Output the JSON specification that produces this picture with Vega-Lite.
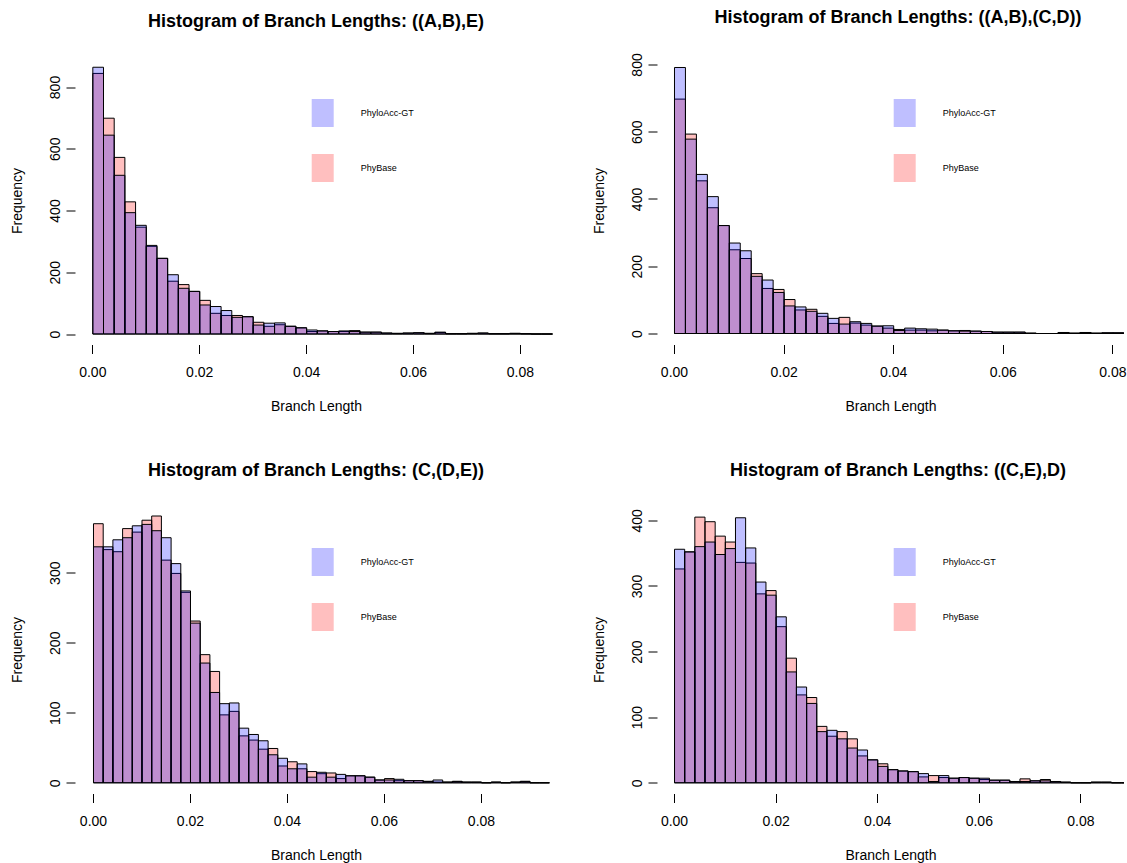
{
  "$schema": "https://vega.github.io/schema/vega-lite/v6.json",
  "padding": {"left": 10, "top": 8.5, "right": 0, "bottom": 0},
  "background": "white",
  "config": {
    "view": {"stroke": null},
    "font": "Liberation Sans",
    "title": {"font": "Liberation Sans", "fontSize": 18, "fontWeight": "bold", "color": "black", "offset": 26, "anchor": "middle", "baseline": "alphabetic"},
    "axis": {"domain": false, "grid": false, "ticks": true, "tickColor": "black", "tickWidth": 1, "tickSize": 9, "labelFont": "Liberation Sans", "labelFontSize": 14, "labelColor": "black", "labelFlush": false, "labelOverlap": false, "titleFont": "Liberation Sans", "titleFontSize": 14, "titleFontWeight": "normal", "titleColor": "black"},
    "axisX": {"labelPadding": 12, "titlePadding": 20, "format": ".2f"},
    "axisY": {"labelAngle": 270, "labelAlign": "center", "labelBaseline": "bottom", "labelPadding": 4, "titlePadding": 24},
    "legend": {"orient": "none", "legendX": 233.7, "legendY": 42.5, "padding": 0, "symbolType": "M-0.786,-1H0.786V1H-0.786Z", "symbolSize": 784, "symbolStrokeWidth": 0, "symbolStrokeColor": "transparent", "symbolOpacity": 1, "labelFont": "Liberation Sans", "labelFontSize": 9, "labelColor": "black", "labelOffset": 24, "rowPadding": 27}
  },
  "datasets": {
    "p1": [
      {"x": 0.000, "PhyloAcc-GT": 864, "PhyBase": 844},
      {"x": 0.002, "PhyloAcc-GT": 644, "PhyBase": 699},
      {"x": 0.004, "PhyloAcc-GT": 514, "PhyBase": 572},
      {"x": 0.006, "PhyloAcc-GT": 393, "PhyBase": 428},
      {"x": 0.008, "PhyloAcc-GT": 352, "PhyBase": 346},
      {"x": 0.010, "PhyloAcc-GT": 287, "PhyBase": 284},
      {"x": 0.012, "PhyloAcc-GT": 245, "PhyBase": 245},
      {"x": 0.014, "PhyloAcc-GT": 192, "PhyBase": 171},
      {"x": 0.016, "PhyloAcc-GT": 148, "PhyBase": 160},
      {"x": 0.018, "PhyloAcc-GT": 138, "PhyBase": 138},
      {"x": 0.020, "PhyloAcc-GT": 94, "PhyBase": 109},
      {"x": 0.022, "PhyloAcc-GT": 89, "PhyBase": 67},
      {"x": 0.024, "PhyloAcc-GT": 76, "PhyBase": 60},
      {"x": 0.026, "PhyloAcc-GT": 54, "PhyBase": 60},
      {"x": 0.028, "PhyloAcc-GT": 56, "PhyBase": 56},
      {"x": 0.030, "PhyloAcc-GT": 29, "PhyBase": 38},
      {"x": 0.032, "PhyloAcc-GT": 35, "PhyBase": 25},
      {"x": 0.034, "PhyloAcc-GT": 36, "PhyBase": 30},
      {"x": 0.036, "PhyloAcc-GT": 25, "PhyBase": 25},
      {"x": 0.038, "PhyloAcc-GT": 20, "PhyBase": 20},
      {"x": 0.040, "PhyloAcc-GT": 13, "PhyBase": 8},
      {"x": 0.042, "PhyloAcc-GT": 10, "PhyBase": 10},
      {"x": 0.044, "PhyloAcc-GT": 8, "PhyBase": 8},
      {"x": 0.046, "PhyloAcc-GT": 10, "PhyBase": 8},
      {"x": 0.048, "PhyloAcc-GT": 8, "PhyBase": 11},
      {"x": 0.050, "PhyloAcc-GT": 6, "PhyBase": 6},
      {"x": 0.052, "PhyloAcc-GT": 6, "PhyBase": 6},
      {"x": 0.054, "PhyloAcc-GT": 3, "PhyBase": 3},
      {"x": 0.056, "PhyloAcc-GT": 2, "PhyBase": 2},
      {"x": 0.058, "PhyloAcc-GT": 3, "PhyBase": 3},
      {"x": 0.060, "PhyloAcc-GT": 4, "PhyBase": 4},
      {"x": 0.062, "PhyloAcc-GT": 2, "PhyBase": 2},
      {"x": 0.064, "PhyloAcc-GT": 6, "PhyBase": 5},
      {"x": 0.066, "PhyloAcc-GT": 1, "PhyBase": 1},
      {"x": 0.068, "PhyloAcc-GT": 1, "PhyBase": 1},
      {"x": 0.070, "PhyloAcc-GT": 2, "PhyBase": 2},
      {"x": 0.072, "PhyloAcc-GT": 3, "PhyBase": 3},
      {"x": 0.074, "PhyloAcc-GT": 1, "PhyBase": 1},
      {"x": 0.076, "PhyloAcc-GT": 1, "PhyBase": 1},
      {"x": 0.078, "PhyloAcc-GT": 2, "PhyBase": 2},
      {"x": 0.080, "PhyloAcc-GT": 1, "PhyBase": 1},
      {"x": 0.082, "PhyloAcc-GT": 0, "PhyBase": 0},
      {"x": 0.084, "PhyloAcc-GT": 0, "PhyBase": 0}
    ],
    "p2": [
      {"x": 0.000, "PhyloAcc-GT": 791, "PhyBase": 697},
      {"x": 0.002, "PhyloAcc-GT": 578, "PhyBase": 593},
      {"x": 0.004, "PhyloAcc-GT": 473, "PhyBase": 454},
      {"x": 0.006, "PhyloAcc-GT": 407, "PhyBase": 374},
      {"x": 0.008, "PhyloAcc-GT": 321, "PhyBase": 321},
      {"x": 0.010, "PhyloAcc-GT": 269, "PhyBase": 249},
      {"x": 0.012, "PhyloAcc-GT": 246, "PhyBase": 223},
      {"x": 0.014, "PhyloAcc-GT": 170, "PhyBase": 178},
      {"x": 0.016, "PhyloAcc-GT": 159, "PhyBase": 134},
      {"x": 0.018, "PhyloAcc-GT": 122, "PhyBase": 131},
      {"x": 0.020, "PhyloAcc-GT": 82, "PhyBase": 101},
      {"x": 0.022, "PhyloAcc-GT": 79, "PhyBase": 70},
      {"x": 0.024, "PhyloAcc-GT": 66, "PhyBase": 72},
      {"x": 0.026, "PhyloAcc-GT": 60, "PhyBase": 51},
      {"x": 0.028, "PhyloAcc-GT": 45, "PhyBase": 30},
      {"x": 0.030, "PhyloAcc-GT": 28, "PhyBase": 48},
      {"x": 0.032, "PhyloAcc-GT": 35, "PhyBase": 31},
      {"x": 0.034, "PhyloAcc-GT": 30, "PhyBase": 25},
      {"x": 0.036, "PhyloAcc-GT": 22, "PhyBase": 22},
      {"x": 0.038, "PhyloAcc-GT": 23, "PhyBase": 16},
      {"x": 0.040, "PhyloAcc-GT": 9, "PhyBase": 12},
      {"x": 0.042, "PhyloAcc-GT": 16, "PhyBase": 10},
      {"x": 0.044, "PhyloAcc-GT": 14, "PhyBase": 10},
      {"x": 0.046, "PhyloAcc-GT": 13, "PhyBase": 8},
      {"x": 0.048, "PhyloAcc-GT": 10, "PhyBase": 10},
      {"x": 0.050, "PhyloAcc-GT": 8, "PhyBase": 8},
      {"x": 0.052, "PhyloAcc-GT": 7, "PhyBase": 9},
      {"x": 0.054, "PhyloAcc-GT": 7, "PhyBase": 7},
      {"x": 0.056, "PhyloAcc-GT": 6, "PhyBase": 6},
      {"x": 0.058, "PhyloAcc-GT": 4, "PhyBase": 4},
      {"x": 0.060, "PhyloAcc-GT": 4, "PhyBase": 4},
      {"x": 0.062, "PhyloAcc-GT": 4, "PhyBase": 4},
      {"x": 0.064, "PhyloAcc-GT": 1, "PhyBase": 1},
      {"x": 0.066, "PhyloAcc-GT": 0, "PhyBase": 0},
      {"x": 0.068, "PhyloAcc-GT": 0, "PhyBase": 0},
      {"x": 0.070, "PhyloAcc-GT": 3, "PhyBase": 3},
      {"x": 0.072, "PhyloAcc-GT": 1, "PhyBase": 1},
      {"x": 0.074, "PhyloAcc-GT": 3, "PhyBase": 3},
      {"x": 0.076, "PhyloAcc-GT": 1, "PhyBase": 1},
      {"x": 0.078, "PhyloAcc-GT": 2, "PhyBase": 2},
      {"x": 0.080, "PhyloAcc-GT": 2, "PhyBase": 2},
      {"x": 0.082, "PhyloAcc-GT": 0, "PhyBase": 0}
    ],
    "p3": [
      {"x": 0.000, "PhyloAcc-GT": 337, "PhyBase": 370},
      {"x": 0.002, "PhyloAcc-GT": 337, "PhyBase": 333},
      {"x": 0.004, "PhyloAcc-GT": 347, "PhyBase": 330},
      {"x": 0.006, "PhyloAcc-GT": 350, "PhyBase": 363},
      {"x": 0.008, "PhyloAcc-GT": 367, "PhyBase": 358},
      {"x": 0.010, "PhyloAcc-GT": 369, "PhyBase": 375},
      {"x": 0.012, "PhyloAcc-GT": 360, "PhyBase": 381},
      {"x": 0.014, "PhyloAcc-GT": 350, "PhyBase": 318},
      {"x": 0.016, "PhyloAcc-GT": 313, "PhyBase": 299},
      {"x": 0.018, "PhyloAcc-GT": 274, "PhyBase": 272},
      {"x": 0.020, "PhyloAcc-GT": 228, "PhyBase": 231},
      {"x": 0.022, "PhyloAcc-GT": 171, "PhyBase": 183},
      {"x": 0.024, "PhyloAcc-GT": 129, "PhyBase": 159},
      {"x": 0.026, "PhyloAcc-GT": 113, "PhyBase": 97},
      {"x": 0.028, "PhyloAcc-GT": 114, "PhyBase": 102},
      {"x": 0.030, "PhyloAcc-GT": 78, "PhyBase": 67},
      {"x": 0.032, "PhyloAcc-GT": 69, "PhyBase": 61},
      {"x": 0.034, "PhyloAcc-GT": 60, "PhyBase": 48},
      {"x": 0.036, "PhyloAcc-GT": 40, "PhyBase": 49},
      {"x": 0.038, "PhyloAcc-GT": 35, "PhyBase": 24},
      {"x": 0.040, "PhyloAcc-GT": 20, "PhyBase": 30},
      {"x": 0.042, "PhyloAcc-GT": 27, "PhyBase": 20},
      {"x": 0.044, "PhyloAcc-GT": 8, "PhyBase": 16},
      {"x": 0.046, "PhyloAcc-GT": 15, "PhyBase": 13},
      {"x": 0.048, "PhyloAcc-GT": 8, "PhyBase": 14},
      {"x": 0.050, "PhyloAcc-GT": 12, "PhyBase": 6},
      {"x": 0.052, "PhyloAcc-GT": 10, "PhyBase": 10},
      {"x": 0.054, "PhyloAcc-GT": 10, "PhyBase": 10},
      {"x": 0.056, "PhyloAcc-GT": 8, "PhyBase": 8},
      {"x": 0.058, "PhyloAcc-GT": 4, "PhyBase": 4},
      {"x": 0.060, "PhyloAcc-GT": 4, "PhyBase": 6},
      {"x": 0.062, "PhyloAcc-GT": 5, "PhyBase": 3},
      {"x": 0.064, "PhyloAcc-GT": 3, "PhyBase": 3},
      {"x": 0.066, "PhyloAcc-GT": 3, "PhyBase": 3},
      {"x": 0.068, "PhyloAcc-GT": 2, "PhyBase": 2},
      {"x": 0.070, "PhyloAcc-GT": 4, "PhyBase": 1},
      {"x": 0.072, "PhyloAcc-GT": 1, "PhyBase": 1},
      {"x": 0.074, "PhyloAcc-GT": 2, "PhyBase": 2},
      {"x": 0.076, "PhyloAcc-GT": 1, "PhyBase": 1},
      {"x": 0.078, "PhyloAcc-GT": 1, "PhyBase": 1},
      {"x": 0.080, "PhyloAcc-GT": 0, "PhyBase": 0},
      {"x": 0.082, "PhyloAcc-GT": 1, "PhyBase": 1},
      {"x": 0.084, "PhyloAcc-GT": 0, "PhyBase": 0},
      {"x": 0.086, "PhyloAcc-GT": 1, "PhyBase": 1},
      {"x": 0.088, "PhyloAcc-GT": 2, "PhyBase": 2},
      {"x": 0.090, "PhyloAcc-GT": 0, "PhyBase": 0},
      {"x": 0.092, "PhyloAcc-GT": 0, "PhyBase": 0}
    ],
    "p4": [
      {"x": 0.000, "PhyloAcc-GT": 356, "PhyBase": 326},
      {"x": 0.002, "PhyloAcc-GT": 352, "PhyBase": 352},
      {"x": 0.004, "PhyloAcc-GT": 360, "PhyBase": 405},
      {"x": 0.006, "PhyloAcc-GT": 367, "PhyBase": 398},
      {"x": 0.008, "PhyloAcc-GT": 348, "PhyBase": 376},
      {"x": 0.010, "PhyloAcc-GT": 357, "PhyBase": 367},
      {"x": 0.012, "PhyloAcc-GT": 404, "PhyBase": 336},
      {"x": 0.014, "PhyloAcc-GT": 358, "PhyBase": 335},
      {"x": 0.016, "PhyloAcc-GT": 306, "PhyBase": 288},
      {"x": 0.018, "PhyloAcc-GT": 286, "PhyBase": 293},
      {"x": 0.020, "PhyloAcc-GT": 253, "PhyBase": 238},
      {"x": 0.022, "PhyloAcc-GT": 169, "PhyBase": 190},
      {"x": 0.024, "PhyloAcc-GT": 146, "PhyBase": 134},
      {"x": 0.026, "PhyloAcc-GT": 121, "PhyBase": 130},
      {"x": 0.028, "PhyloAcc-GT": 78, "PhyBase": 86},
      {"x": 0.030, "PhyloAcc-GT": 80, "PhyBase": 71},
      {"x": 0.032, "PhyloAcc-GT": 67, "PhyBase": 78},
      {"x": 0.034, "PhyloAcc-GT": 53, "PhyBase": 67},
      {"x": 0.036, "PhyloAcc-GT": 50, "PhyBase": 41},
      {"x": 0.038, "PhyloAcc-GT": 35, "PhyBase": 35},
      {"x": 0.040, "PhyloAcc-GT": 25, "PhyBase": 29},
      {"x": 0.042, "PhyloAcc-GT": 20, "PhyBase": 20},
      {"x": 0.044, "PhyloAcc-GT": 18, "PhyBase": 18},
      {"x": 0.046, "PhyloAcc-GT": 17, "PhyBase": 17},
      {"x": 0.048, "PhyloAcc-GT": 14, "PhyBase": 9},
      {"x": 0.050, "PhyloAcc-GT": 2, "PhyBase": 11},
      {"x": 0.052, "PhyloAcc-GT": 11, "PhyBase": 8},
      {"x": 0.054, "PhyloAcc-GT": 7, "PhyBase": 7},
      {"x": 0.056, "PhyloAcc-GT": 8, "PhyBase": 8},
      {"x": 0.058, "PhyloAcc-GT": 7, "PhyBase": 7},
      {"x": 0.060, "PhyloAcc-GT": 7, "PhyBase": 5},
      {"x": 0.062, "PhyloAcc-GT": 4, "PhyBase": 4},
      {"x": 0.064, "PhyloAcc-GT": 4, "PhyBase": 4},
      {"x": 0.066, "PhyloAcc-GT": 2, "PhyBase": 2},
      {"x": 0.068, "PhyloAcc-GT": 2, "PhyBase": 6},
      {"x": 0.070, "PhyloAcc-GT": 3, "PhyBase": 3},
      {"x": 0.072, "PhyloAcc-GT": 3, "PhyBase": 5},
      {"x": 0.074, "PhyloAcc-GT": 2, "PhyBase": 2},
      {"x": 0.076, "PhyloAcc-GT": 1, "PhyBase": 1},
      {"x": 0.078, "PhyloAcc-GT": 0, "PhyBase": 0},
      {"x": 0.080, "PhyloAcc-GT": 0, "PhyBase": 0},
      {"x": 0.082, "PhyloAcc-GT": 1, "PhyBase": 1},
      {"x": 0.084, "PhyloAcc-GT": 1, "PhyBase": 1},
      {"x": 0.086, "PhyloAcc-GT": 0, "PhyBase": 0},
      {"x": 0.088, "PhyloAcc-GT": 0, "PhyBase": 0}
    ]
  },
  "columns": 2,
  "spacing": {"row": 48, "column": 35},
  "resolve": {"scale": {"fill": "independent", "x": "independent", "y": "independent"}, "legend": {"fill": "independent"}},
  "concat": [
    {
      "width": 482, "height": 288,
      "title": {"text": "Histogram of Branch Lengths: ((A,B),E)"},
      "data": {"name": "p1"},
      "encoding": {
        "x": {"field": "x", "type": "quantitative", "bin": {"binned": true, "step": 0.002}, "scale": {"domain": [-0.00324, 0.08694], "nice": false, "zero": false}, "axis": {"values": [0, 0.02, 0.04, 0.06, 0.08], "title": "Branch Length"}},
        "y": {"field": "n", "type": "quantitative", "scale": {"domain": [-34, 898.8], "nice": false, "zero": false}, "axis": {"values": [0, 200, 400, 600, 800], "title": "Frequency"}}
      },
      "layer": [
        {"transform": [{"fold": ["PhyBase"], "as": ["m", "n"]}], "mark": {"type": "bar", "stroke": "black", "strokeWidth": 1, "binSpacing": 0, "clip": true},
         "encoding": {"y2": {"datum": 0}, "fill": {"field": "m", "type": "nominal", "scale": {"domain": ["PhyloAcc-GT", "PhyBase"], "range": ["rgba(0,0,255,0.25)", "rgba(255,0,0,0.25)"]}, "legend": {"title": null}}}},
        {"transform": [{"fold": ["PhyloAcc-GT"], "as": ["m", "n"]}], "mark": {"type": "bar", "stroke": "black", "strokeWidth": 1, "binSpacing": 0, "clip": true},
         "encoding": {"y2": {"datum": 0}, "fill": {"field": "m", "type": "nominal", "scale": {"domain": ["PhyloAcc-GT", "PhyBase"], "range": ["rgba(0,0,255,0.25)", "rgba(255,0,0,0.25)"]}, "legend": {"title": null}}}},
        {"data": {"values": [{}]}, "mark": {"type": "rule", "color": "black", "strokeWidth": 1}, "encoding": {"x": {"datum": 0}, "x2": {"datum": 0.08}, "y": {"datum": -34}}},
        {"data": {"values": [{}]}, "mark": {"type": "rule", "color": "black", "strokeWidth": 1}, "encoding": {"x": {"datum": -0.00324}, "y": {"datum": 0}, "y2": {"datum": 800}}}
      ]
    },
    {
      "width": 467, "height": 288,
      "title": {"text": "Histogram of Branch Lengths:  ((A,B),(C,D))", "dx": 7.5},
      "data": {"name": "p2"},
      "encoding": {
        "x": {"field": "x", "type": "quantitative", "bin": {"binned": true, "step": 0.002}, "scale": {"domain": [-0.0031, 0.08212], "nice": false, "zero": false}, "axis": {"values": [0, 0.02, 0.04, 0.06, 0.08], "title": "Branch Length"}},
        "y": {"field": "n", "type": "quantitative", "scale": {"domain": [-32.7, 823.7], "nice": false, "zero": false}, "axis": {"values": [0, 200, 400, 600, 800], "title": "Frequency"}}
      },
      "layer": [
        {"transform": [{"fold": ["PhyBase"], "as": ["m", "n"]}], "mark": {"type": "bar", "stroke": "black", "strokeWidth": 1, "binSpacing": 0, "clip": true},
         "encoding": {"y2": {"datum": 0}, "fill": {"field": "m", "type": "nominal", "scale": {"domain": ["PhyloAcc-GT", "PhyBase"], "range": ["rgba(0,0,255,0.25)", "rgba(255,0,0,0.25)"]}, "legend": {"title": null}}}},
        {"transform": [{"fold": ["PhyloAcc-GT"], "as": ["m", "n"]}], "mark": {"type": "bar", "stroke": "black", "strokeWidth": 1, "binSpacing": 0, "clip": true},
         "encoding": {"y2": {"datum": 0}, "fill": {"field": "m", "type": "nominal", "scale": {"domain": ["PhyloAcc-GT", "PhyBase"], "range": ["rgba(0,0,255,0.25)", "rgba(255,0,0,0.25)"]}, "legend": {"title": null}}}},
        {"data": {"values": [{}]}, "mark": {"type": "rule", "color": "black", "strokeWidth": 1}, "encoding": {"x": {"datum": 0}, "x2": {"datum": 0.08}, "y": {"datum": -32.7}}},
        {"data": {"values": [{}]}, "mark": {"type": "rule", "color": "black", "strokeWidth": 1}, "encoding": {"x": {"datum": -0.0031}, "y": {"datum": 0}, "y2": {"datum": 800}}}
      ]
    },
    {
      "width": 482, "height": 288,
      "title": {"text": "Histogram of Branch Lengths: (C,(D,E))"},
      "data": {"name": "p3"},
      "encoding": {
        "x": {"field": "x", "type": "quantitative", "bin": {"binned": true, "step": 0.002}, "scale": {"domain": [-0.00371, 0.09567], "nice": false, "zero": false}, "axis": {"values": [0, 0.02, 0.04, 0.06, 0.08], "title": "Branch Length"}},
        "y": {"field": "n", "type": "quantitative", "scale": {"domain": [-15.3, 396], "nice": false, "zero": false}, "axis": {"values": [0, 100, 200, 300], "title": "Frequency"}}
      },
      "layer": [
        {"transform": [{"fold": ["PhyBase"], "as": ["m", "n"]}], "mark": {"type": "bar", "stroke": "black", "strokeWidth": 1, "binSpacing": 0, "clip": true},
         "encoding": {"y2": {"datum": 0}, "fill": {"field": "m", "type": "nominal", "scale": {"domain": ["PhyloAcc-GT", "PhyBase"], "range": ["rgba(0,0,255,0.25)", "rgba(255,0,0,0.25)"]}, "legend": {"title": null}}}},
        {"transform": [{"fold": ["PhyloAcc-GT"], "as": ["m", "n"]}], "mark": {"type": "bar", "stroke": "black", "strokeWidth": 1, "binSpacing": 0, "clip": true},
         "encoding": {"y2": {"datum": 0}, "fill": {"field": "m", "type": "nominal", "scale": {"domain": ["PhyloAcc-GT", "PhyBase"], "range": ["rgba(0,0,255,0.25)", "rgba(255,0,0,0.25)"]}, "legend": {"title": null}}}},
        {"data": {"values": [{}]}, "mark": {"type": "rule", "color": "black", "strokeWidth": 1}, "encoding": {"x": {"datum": 0}, "x2": {"datum": 0.08}, "y": {"datum": -15.3}}},
        {"data": {"values": [{}]}, "mark": {"type": "rule", "color": "black", "strokeWidth": 1}, "encoding": {"x": {"datum": -0.00371}, "y": {"datum": 0}, "y2": {"datum": 300}}}
      ]
    },
    {
      "width": 467, "height": 288,
      "title": {"text": "Histogram of Branch Lengths: ((C,E),D)", "dx": 7.5},
      "data": {"name": "p4"},
      "encoding": {
        "x": {"field": "x", "type": "quantitative", "bin": {"binned": true, "step": 0.002}, "scale": {"domain": [-0.00335, 0.08858], "nice": false, "zero": false}, "axis": {"values": [0, 0.02, 0.04, 0.06, 0.08], "title": "Branch Length"}},
        "y": {"field": "n", "type": "quantitative", "scale": {"domain": [-16.3, 422.7], "nice": false, "zero": false}, "axis": {"values": [0, 100, 200, 300, 400], "title": "Frequency"}}
      },
      "layer": [
        {"transform": [{"fold": ["PhyBase"], "as": ["m", "n"]}], "mark": {"type": "bar", "stroke": "black", "strokeWidth": 1, "binSpacing": 0, "clip": true},
         "encoding": {"y2": {"datum": 0}, "fill": {"field": "m", "type": "nominal", "scale": {"domain": ["PhyloAcc-GT", "PhyBase"], "range": ["rgba(0,0,255,0.25)", "rgba(255,0,0,0.25)"]}, "legend": {"title": null}}}},
        {"transform": [{"fold": ["PhyloAcc-GT"], "as": ["m", "n"]}], "mark": {"type": "bar", "stroke": "black", "strokeWidth": 1, "binSpacing": 0, "clip": true},
         "encoding": {"y2": {"datum": 0}, "fill": {"field": "m", "type": "nominal", "scale": {"domain": ["PhyloAcc-GT", "PhyBase"], "range": ["rgba(0,0,255,0.25)", "rgba(255,0,0,0.25)"]}, "legend": {"title": null}}}},
        {"data": {"values": [{}]}, "mark": {"type": "rule", "color": "black", "strokeWidth": 1}, "encoding": {"x": {"datum": 0}, "x2": {"datum": 0.08}, "y": {"datum": -16.3}}},
        {"data": {"values": [{}]}, "mark": {"type": "rule", "color": "black", "strokeWidth": 1}, "encoding": {"x": {"datum": -0.00335}, "y": {"datum": 0}, "y2": {"datum": 400}}}
      ]
    }
  ]
}
